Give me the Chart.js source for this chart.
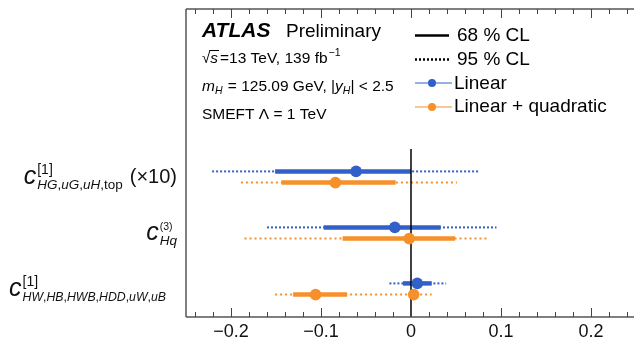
<!DOCTYPE html>
<html>
<head>
<meta charset="UTF-8">
<title>SMEFT constraints</title>
<script src="https://cdn.jsdelivr.net/npm/chart.js"></script>
<style>
  html, body { margin: 0; padding: 0; background: #fff; overflow: hidden; }
  canvas { display: block; }
</style>
</head>
<body>
<canvas id="c" width="640" height="338"></canvas>
<script>
// rows, top to bottom, and where they sit on the y scale
const rowNames = ['HG,uG,uH,top (x10)', 'Hq (3)', 'HW,HB,HWB,HDD,uW,uB'];
const rowY = [2.5, 1.5, 0.5];

// Linear fit: best value, 68% and 95% intervals
const linBest = [-0.061, -0.018, 0.007];
const lin68Lo = [-0.151, -0.097, -0.009];
const lin68Hi = [0.000, 0.033, 0.023];
const lin95Lo = [-0.221, -0.160, -0.024];
const lin95Hi = [0.076, 0.095, 0.039];

// Linear + quadratic fit
const quadBest = [-0.084, -0.002, -0.106];
const quadExtraBest = [null, null, 0.003]; // second minimum
const quad68Lo = [-0.144, -0.076, -0.131];
const quad68Hi = [-0.017, 0.049, -0.071];
const quad95Lo = [-0.189, -0.185, -0.151];
const quad95Hi = [0.051, 0.087, 0.023];

// x axis
const xMin = -0.25, xMax = 0.25;
const xMajor = [-0.2, -0.1, 0, 0.1, 0.2];
const xMajorLabels = ['\u22120.2', '\u22120.1', '0', '0.1', '0.2'];
const xMinorStep = 0.02;

const BLUE = '#3160c9';
const ORANGE = '#f6902a';
const offset = 0.1; // blue above, orange below the row line

function segments(lo, hi, dy, color, width, dash, order) {
  return lo.map((l, i) => ({
    data: [{ x: l, y: rowY[i] + dy }, { x: hi[i], y: rowY[i] + dy }],
    showLine: true, borderColor: color, borderWidth: width, borderDash: dash,
    borderCapStyle: 'butt', pointRadius: 0, order: order
  }));
}

const datasets = [
  ...segments(lin95Lo, lin95Hi, offset, BLUE, 2, [2, 2], 3),
  ...segments(quad95Lo, quad95Hi, -offset, ORANGE, 2, [2, 3], 3),
  ...segments(lin68Lo, lin68Hi, offset, BLUE, 4.5, [], 2),
  ...segments(quad68Lo, quad68Hi, -offset, ORANGE, 4.5, [], 2),
  {
    data: [{ x: 0, y: 0 }, { x: 0, y: 3.0 }],
    showLine: true, borderColor: '#000', borderWidth: 1.5, pointRadius: 0, order: 1
  },
  {
    data: linBest.map((v, i) => ({ x: v, y: rowY[i] + offset })),
    pointRadius: 5.8, pointBackgroundColor: BLUE, pointBorderWidth: 0, order: 0
  },
  {
    data: quadBest.map((v, i) => ({ x: v, y: rowY[i] - offset }))
      .concat(quadExtraBest.map((v, i) => v === null ? null : { x: v, y: rowY[i] - offset }).filter(p => p)),
    pointRadius: 5.8, pointBackgroundColor: ORANGE, pointBorderWidth: 0, order: 0
  }
];

// draw a list of text runs one after another
function runs(ctx, x, y, list) {
  list.forEach(r => {
    ctx.font = r.f;
    ctx.fillText(r.t, x, y + (r.dy || 0));
    x += ctx.measureText(r.t).width + (r.sp || 0);
  });
  return x;
}
function width(ctx, list) {
  let w = 0;
  list.forEach(r => { ctx.font = r.f; w += ctx.measureText(r.t).width + (r.sp || 0); });
  return w;
}
function line(ctx, x0, y0, x1, y1) {
  ctx.beginPath(); ctx.moveTo(x0, y0); ctx.lineTo(x1, y1); ctx.stroke();
}

const FF = '"Liberation Sans", Arial, sans-serif';
const it = s => 'italic ' + s + 'px ' + FF;
const rm = s => s + 'px ' + FF;

// coefficient labels: c with stacked super/subscript, right aligned
const coefLabels = [
  { right: 177, sup: [{ t: '[1]', f: rm(14) }],
    sub: [{ t: 'HG', f: it(13.5) }, { t: ',', f: rm(13.5) }, { t: 'uG', f: it(13.5) }, { t: ',', f: rm(13.5) },
          { t: 'uH', f: it(13.5) }, { t: ',top', f: rm(13.5) }],
    suffix: [{ t: '(\u00d710)', f: rm(20) }] },
  { right: 177, sup: [{ t: '(3)', f: rm(10.5) }],
    sub: [{ t: 'Hq', f: it(13.5) }], suffix: [] },
  { right: 166, sup: [{ t: '[1]', f: rm(14) }],
    sub: [{ t: 'HW', f: it(12.3) }, { t: ',', f: rm(12.3) }, { t: 'HB', f: it(12.3) }, { t: ',', f: rm(12.3) },
          { t: 'HWB', f: it(12.3) }, { t: ',', f: rm(12.3) }, { t: 'HDD', f: it(12.3) }, { t: ',', f: rm(12.3) },
          { t: 'uW', f: it(12.3) }, { t: ',', f: rm(12.3) }, { t: 'uB', f: it(12.3) }], suffix: [] }
];

const frameAndText = {
  id: 'frameAndText',
  afterDraw(chart) {
    const ctx = chart.ctx;
    const a = chart.chartArea;
    const xs = chart.scales.x, ys = chart.scales.y;
    ctx.save();

    // frame: top, left, bottom (right edge falls outside the picture)
    ctx.strokeStyle = '#555';
    ctx.lineWidth = 1.5;
    line(ctx, a.left, a.top, a.right, a.top);
    line(ctx, a.left, a.top, a.left, a.bottom);
    line(ctx, a.left, a.bottom, a.right, a.bottom);

    // inward ticks, top and bottom
    ctx.lineWidth = 1;
    ctx.strokeStyle = '#444';
    const n = Math.round((xMax - xMin) / xMinorStep);
    for (let k = -n; k <= n; k++) {
      const v = k * xMinorStep;
      if (v < xMin || v > xMax) continue;
      const px = Math.round(xs.getPixelForValue(v)) + 0.5;
      const major = xMajor.some(m => Math.abs(m - v) < 1e-6);
      line(ctx, px, a.bottom, px, a.bottom - (major ? 9 : 5));
      line(ctx, px, a.top, px, a.top + (major ? 9 : 5));
    }

    // tick labels
    ctx.fillStyle = '#111';
    ctx.textAlign = 'center';
    ctx.textBaseline = 'alphabetic';
    ctx.font = rm(18);
    xMajor.forEach((v, i) => ctx.fillText(xMajorLabels[i], xs.getPixelForValue(v), 337));
    ctx.textAlign = 'left';

    // coefficient labels
    coefLabels.forEach((L, i) => {
      const base = ys.getPixelForValue(rowY[i]) + 7;
      ctx.font = it(25);
      const wc = ctx.measureText('c').width;
      const wss = Math.max(width(ctx, L.sup), width(ctx, L.sub));
      const wsuf = L.suffix.length ? width(ctx, L.suffix) + 7 : 0;
      let x = L.right - (wc + 1 + wss + wsuf);
      ctx.font = it(25);
      ctx.fillText('c', x, base);
      x += wc + 1;
      runs(ctx, x, base - 10, L.sup);
      runs(ctx, x, base + 5, L.sub);
      if (L.suffix.length) runs(ctx, x + wss + 7, base - 1, L.suffix);
    });

    // ATLAS text block
    const tx = 202;
    ctx.fillStyle = '#000';
    runs(ctx, tx, 37, [{ t: 'ATLAS', f: 'italic bold 21px ' + FF }]);
    runs(ctx, 286, 37, [{ t: 'Preliminary', f: rm(19) }]);
    let ex = runs(ctx, tx, 63, [{ t: '\u221a', f: rm(15) }]);
    ctx.font = it(15.5);
    const ws = ctx.measureText('s').width;
    ctx.fillText('s', ex, 63);
    ctx.lineWidth = 1;
    ctx.strokeStyle = '#000';
    line(ctx, ex - 1, 50.5, ex + ws + 1, 50.5);
    ex = runs(ctx, ex + ws + 2, 63, [{ t: '=13 TeV, 139 fb', f: rm(15.5) }]);
    runs(ctx, ex + 1, 56, [{ t: '\u22121', f: rm(10.5) }]);
    runs(ctx, tx, 91, [
      { t: 'm', f: it(15.5) }, { t: 'H', f: it(10.5), dy: 3, sp: 1 },
      { t: ' = 125.09 GeV, |', f: rm(15.5) }, { t: 'y', f: it(15.5) }, { t: 'H', f: it(10.5), dy: 3 },
      { t: '| < 2.5', f: rm(15.5) }
    ]);
    runs(ctx, tx, 119, [{ t: 'SMEFT \u039b = 1 TeV', f: rm(15.5) }]);

    // legend
    const lx0 = 415, lx1 = 449, ltx = 457;
    ctx.strokeStyle = '#000';
    ctx.lineWidth = 2.5;
    line(ctx, lx0, 35.5, lx1, 35.5);
    ctx.setLineDash([2, 2]);
    line(ctx, lx0, 59.5, lx1, 59.5);
    ctx.setLineDash([]);
    [[BLUE, 83, 'Linear', 89], [ORANGE, 107, 'Linear + quadratic', 112]].forEach(([col, y, txt, by]) => {
      ctx.strokeStyle = col;
      ctx.lineWidth = 1.2;
      line(ctx, lx0, y, lx1 + 3, y);
      ctx.fillStyle = col;
      ctx.beginPath(); ctx.arc(432, y, 4, 0, Math.PI * 2); ctx.fill();
      ctx.fillStyle = '#000';
      runs(ctx, ltx - 3, by, [{ t: txt, f: rm(19) }]);
    });
    runs(ctx, ltx, 41, [{ t: '68 % CL', f: rm(19) }]);
    runs(ctx, ltx, 65, [{ t: '95 % CL', f: rm(19) }]);

    ctx.restore();
  }
};

new Chart(document.getElementById('c'), {
  type: 'scatter',
  data: { datasets: datasets },
  options: {
    responsive: false,
    animation: false,
    layout: { autoPadding: false, padding: { left: 186, top: 9, right: 4, bottom: 21 } },
    plugins: { legend: { display: false }, tooltip: { enabled: false } },
    scales: {
      x: { type: 'linear', min: xMin, max: xMax, display: false },
      y: { type: 'linear', min: 0, max: 5.5, display: false }
    }
  },
  plugins: [frameAndText]
});
</script>
</body>
</html>
